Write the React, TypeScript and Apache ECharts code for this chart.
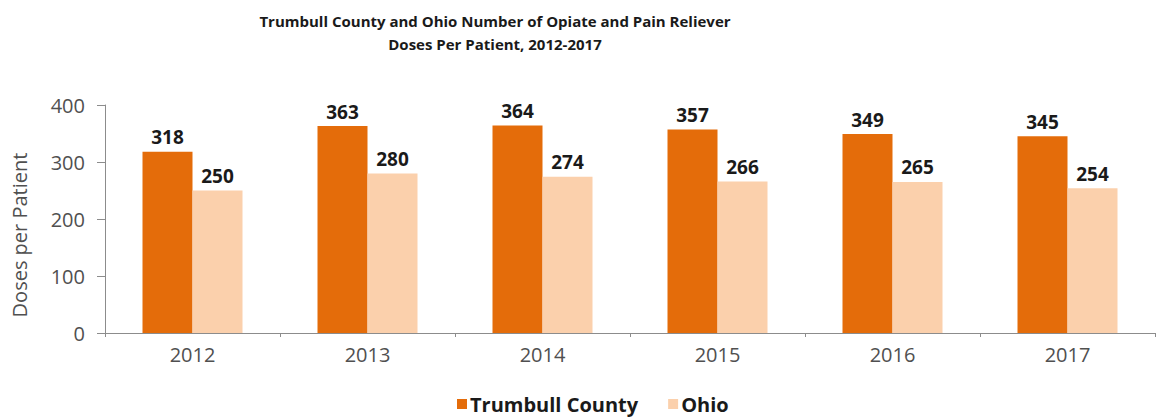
import React, { useEffect, useRef } from "react";
import * as echarts from "echarts";

const categories = ["2012", "2013", "2014", "2015", "2016", "2017"];
const trumbull = [318, 363, 364, 357, 349, 345];
const ohio = [250, 280, 274, 266, 265, 254];
const yTicks = [0, 100, 200, 300, 400];

const FONT = "'Open Sans', 'Noto Sans', sans-serif";

export default function App() {
  const ref = useRef<HTMLDivElement>(null);
  useEffect(() => {
    document.body.style.margin = "0";
    const chart = echarts.init(ref.current!, null, { renderer: "svg" });
    const labelStyle = {
      show: true,
      position: "top" as const,
      fontFamily: FONT,
      fontWeight: "bold" as const,
      fontSize: 19,
      color: "#1a1a1a",
      distance: 5,
    };
    chart.setOption({
      animation: false,
      backgroundColor: "#ffffff",
      title: {
        text: "Trumbull County and Ohio Number of Opiate and Pain Reliever\nDoses Per Patient, 2012-2017",
        left: 490,
        textAlign: "center",
        top: 4,
        textStyle: {
          fontFamily: FONT,
          fontWeight: "bold",
          fontSize: 15,
          lineHeight: 23,
          color: "#1a1a1a",
        },
      },
      graphic: [
        {
          type: "text",
          x: 9,
          y: 235,
          rotation: Math.PI / 2,
          style: {
            text: "Doses per Patient",
            fontFamily: FONT,
            fontSize: 20,
            fill: "#505050",
            align: "center",
            verticalAlign: "top",
          },
        },
      ],
      legend: {
        bottom: 0,
        left: 452,
        itemWidth: 10,
        itemHeight: 10,
        itemGap: 30,
        icon: "rect",
        textStyle: {
          fontFamily: FONT,
          fontWeight: "bold",
          fontSize: 20,
          color: "#1a1a1a",
          padding: [0, 0, 0, -2],
        },
        data: ["Trumbull County", "Ohio"],
      },
      grid: { left: 105, right: 8, top: 105, bottom: 86, outerBoundsMode: "none" },
      xAxis: {
        type: "category",
        data: categories,
        axisLine: { lineStyle: { color: "#8c8c8c" } },
        axisTick: { show: true, length: 4, lineStyle: { color: "#8c8c8c" } },
        axisLabel: { fontFamily: FONT, fontSize: 20, color: "#505050", margin: 11 },
      },
      yAxis: {
        type: "value",
        min: 0,
        max: 400,
        interval: 100,
        axisLine: { show: true, lineStyle: { color: "#8c8c8c" } },
        axisTick: { show: true, length: 8, lineStyle: { color: "#8c8c8c" } },
        splitLine: { show: false },
        axisLabel: {
          fontFamily: FONT,
          fontSize: 20,
          color: "#505050",
          margin: 20,
          formatter: (v: number) => (yTicks.includes(v) ? String(v) : ""),
        },
      },
      series: [
        {
          name: "Trumbull County",
          type: "bar",
          data: trumbull,
          barWidth: 50,
          barGap: "0%",
          itemStyle: { color: "#E46C0A" },
          label: labelStyle,
        },
        {
          name: "Ohio",
          type: "bar",
          data: ohio,
          barWidth: 50,
          barGap: "0%",
          itemStyle: { color: "#FBD0AC" },
          label: labelStyle,
        },
      ],
    });
    return () => chart.dispose();
  }, []);
  return <div ref={ref} style={{ width: 1163, height: 419 }} />;
}
